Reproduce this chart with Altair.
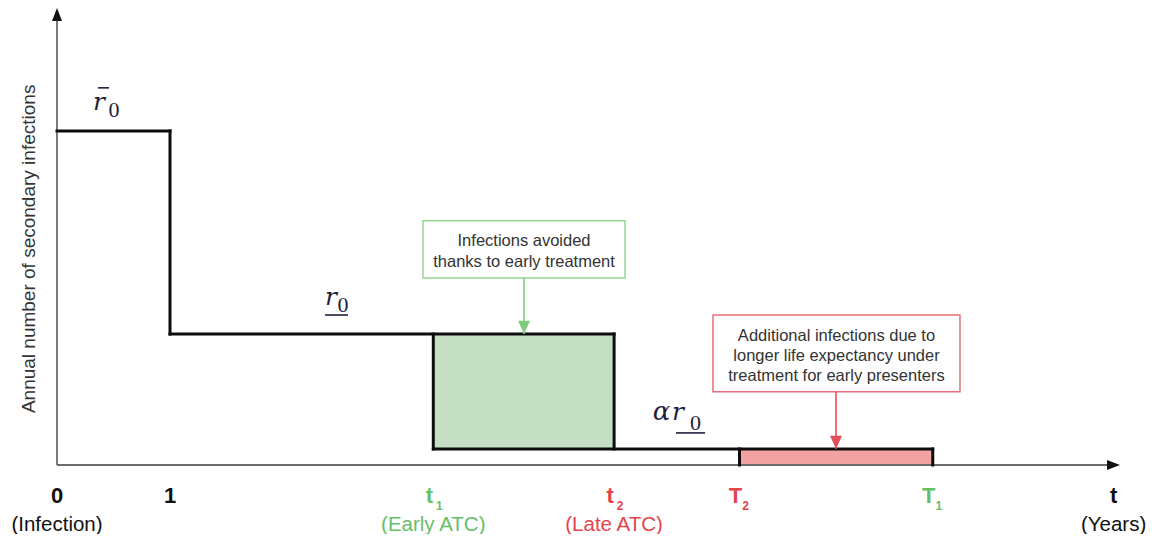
import altair as alt
import pandas as pd

# ---------------- values ----------------
# x: years since infection ; y: annual number of secondary infections (relative)
t1, t2, T2, T1 = 3.33, 4.93, 6.04, 7.75
X_AXIS_END = 9.407
T_LABEL_X = 9.35
R_BAR, R0, AR0 = 1.0, 0.392, 0.048
Y_TOP = 1.368

# black step outline (segments)
seg_x  = [0.0, 1.0, 1.0, t1,  t2,  t1,  T2,  T1]
seg_x2 = [1.0, 1.0, t2,  t1,  t2,  T1,  T2,  T1]
seg_y  = [R_BAR, R_BAR, R0, R0, R0, AR0, AR0, AR0]
seg_y2 = [R_BAR, R0,   R0, AR0, AR0, AR0, 0.0, 0.0]

# shaded areas
area_x  = [t1, T2]
area_x2 = [t2, T1]
area_y  = [AR0, 0.0]
area_y2 = [R0, AR0]
area_col = ["#c4dfc4", "#f3a2a2"]

# annotation boxes
box_x  = [3.239, 5.805]
box_x2 = [5.027, 7.991]
box_y  = [0.560, 0.219]
box_y2 = [0.731, 0.449]
box_stroke = ["#93d693", "#e4717a"]
green_text = "Infections avoided\nthanks to early treatment"
red_text = "Additional infections due to\nlonger life expectancy under\ntreatment for early presenters"
green_text_xy = (4.133, 0.671)   # first line
red_text_xy = (6.898, 0.386)     # first line

# annotation arrows
arr_x = [4.133, 6.894]
arr_y_from = [0.560, 0.219]
arr_y_to = [R0, AR0]
arr_col = ["#7dcd7d", "#e24e57"]

# tick labels under the time axis
main_lab = ["0", "1", "t"]
main_lab_x = [0.0, 1.0, T_LABEL_X]
sub_main = ["t", "t", "T", "T"]
sub_sub = ["1", "2", "2", "1"]
sub_x = [t1, t2, T2, T1]
sub_col = ["#66c066", "#e3444c", "#e3444c", "#66c066"]
row2_lab = ["(Infection)", "(Early ATC)", "(Late ATC)", "(Years)"]
row2_x = [0.0, t1, t2, T_LABEL_X]
row2_col = ["#111111", "#66c066", "#e3444c", "#111111"]

# math labels
math_r_x = [0.372, 2.425, 5.496]
math_r_y = [1.063, 0.479, 0.135]
math_0_x = [0.504, 2.530, 5.650]
math_0_y = [1.042, 0.458, 0.105]
alpha_x, alpha_y = [5.350], [0.135]
bar_x, bar_x2, bar_y = [0.363, 2.372, 5.478], [0.460, 2.575, 5.735], [1.129, 0.449, 0.096]

Y_TITLE = "Annual number of secondary infections"
MATH_COL = "#1f1f3d"

# ---------------- chart ----------------
xs = alt.Scale(domain=[0, X_AXIS_END], nice=False, zero=False)
ys = alt.Scale(domain=[0, Y_TOP], nice=False, zero=False)


def X(f):
    return alt.X(f, type="quantitative", scale=xs, axis=None)


def Y(f):
    return alt.Y(f, type="quantitative", scale=ys, axis=None)


layers = []

# fills
df_area = pd.DataFrame({"x": area_x, "x2": area_x2, "y": area_y, "y2": area_y2, "c": area_col})
layers.append(alt.Chart(df_area).mark_rect().encode(
    x=X("x"), x2="x2", y=Y("y"), y2="y2", color=alt.Color("c:N", scale=None)))

# axes
df_axes = pd.DataFrame({"x": [0.0, 0.0], "x2": [0.0, X_AXIS_END - 0.05],
                        "y": [0.0, 0.0], "y2": [Y_TOP - 0.02, 0.0]})
layers.append(alt.Chart(df_axes).mark_rule(color="#6b6b6b", strokeWidth=1.8).encode(
    x=X("x"), x2="x2", y=Y("y"), y2="y2"))
layers.append(alt.Chart(pd.DataFrame({"x": [0.0], "y": [Y_TOP]})).mark_point(
    shape="M0,0L-1,2.6L1,2.6Z", size=100, filled=True, opacity=1, color="#111111").encode(
    x=X("x"), y=Y("y")))
layers.append(alt.Chart(pd.DataFrame({"x": [X_AXIS_END], "y": [0.0]})).mark_point(
    shape="M0,0L-2.6,-1L-2.6,1Z", size=100, filled=True, opacity=1, color="#111111").encode(
    x=X("x"), y=Y("y")))

# black outline
df_seg = pd.DataFrame({"x": seg_x, "x2": seg_x2, "y": seg_y, "y2": seg_y2})
layers.append(alt.Chart(df_seg).mark_rule(color="#0d0d0d", strokeWidth=3, strokeCap="square").encode(
    x=X("x"), x2="x2", y=Y("y"), y2="y2"))

# annotation boxes
df_box = pd.DataFrame({"x": box_x, "x2": box_x2, "y": box_y, "y2": box_y2, "s": box_stroke})
layers.append(alt.Chart(df_box).mark_rect(fill="white", strokeWidth=1.5).encode(
    x=X("x"), x2="x2", y=Y("y"), y2="y2", stroke=alt.Stroke("s:N", scale=None)))
layers.append(alt.Chart(pd.DataFrame({"x": [green_text_xy[0]], "y": [green_text_xy[1]], "t": [green_text]})).mark_text(
    font="Liberation Sans", fontSize=16.5, lineHeight=21, lineBreak="\n",
    align="center", baseline="middle", color="#333333").encode(
    x=X("x"), y=Y("y"), text="t:N"))
layers.append(alt.Chart(pd.DataFrame({"x": [red_text_xy[0]], "y": [red_text_xy[1]], "t": [red_text]})).mark_text(
    font="Liberation Sans", fontSize=16.5, lineHeight=20, lineBreak="\n",
    align="center", baseline="middle", color="#333333").encode(
    x=X("x"), y=Y("y"), text="t:N"))

# annotation arrows
df_arr = pd.DataFrame({"x": arr_x, "y": arr_y_from, "y2": arr_y_to, "c": arr_col})
layers.append(alt.Chart(df_arr).mark_rule(strokeWidth=1.6).encode(
    x=X("x"), y=Y("y"), y2="y2", color=alt.Color("c:N", scale=None)))
df_head = pd.DataFrame({"x": arr_x, "y": arr_y_to, "c": arr_col})
layers.append(alt.Chart(df_head).mark_point(
    shape="M0,0L-1,-2.2L1,-2.2Z", size=144, filled=True, opacity=1).encode(
    x=X("x"), y=Y("y"), color=alt.Color("c:N", scale=None)))

# math labels
layers.append(alt.Chart(pd.DataFrame({"x": math_r_x, "y": math_r_y, "t": ["r"] * 3})).mark_text(
    font="DejaVu Serif", fontStyle="italic", fontSize=25, align="center",
    baseline="alphabetic", color=MATH_COL).encode(x=X("x"), y=Y("y"), text="t:N"))
layers.append(alt.Chart(pd.DataFrame({"x": alpha_x, "y": alpha_y, "t": ["α"]})).mark_text(
    font="DejaVu Serif", fontStyle="italic", fontSize=26, align="center",
    baseline="alphabetic", color=MATH_COL).encode(x=X("x"), y=Y("y"), text="t:N"))
layers.append(alt.Chart(pd.DataFrame({"x": math_0_x, "y": math_0_y, "t": ["0"] * 3})).mark_text(
    font="Liberation Serif", fontSize=22, align="center",
    baseline="alphabetic", color=MATH_COL).encode(x=X("x"), y=Y("y"), text="t:N"))
df_bar = pd.DataFrame({"x": bar_x, "x2": bar_x2, "y": bar_y})
layers.append(alt.Chart(df_bar).mark_rule(color=MATH_COL, strokeWidth=1.6).encode(
    x=X("x"), x2="x2", y=Y("y")))

# y-axis title
layers.append(alt.Chart(pd.DataFrame({"x": [-0.248], "y": [0.647], "t": [Y_TITLE]})).mark_text(
    font="Liberation Sans", fontSize=19, angle=270, align="center", baseline="middle",
    color="#333333").encode(x=X("x"), y=Y("y"), text="t:N"))

# tick labels
layers.append(alt.Chart(pd.DataFrame({"x": main_lab_x, "y": [0.0] * 3, "t": main_lab})).mark_text(
    font="Liberation Sans", fontWeight="bold", fontSize=22, align="center",
    baseline="alphabetic", dy=38, color="#111111").encode(x=X("x"), y=Y("y"), text="t:N"))
df_sub = pd.DataFrame({"x": sub_x, "y": [0.0] * 4, "m": sub_main, "s": sub_sub, "c": sub_col})
layers.append(alt.Chart(df_sub).mark_text(
    font="Liberation Sans", fontWeight="bold", fontSize=22, align="center",
    baseline="alphabetic", dy=38, dx=-4).encode(
    x=X("x"), y=Y("y"), text="m:N", color=alt.Color("c:N", scale=None)))
layers.append(alt.Chart(df_sub).mark_text(
    font="Liberation Sans", fontWeight="bold", fontSize=12, align="center",
    baseline="alphabetic", dy=45, dx=6).encode(
    x=X("x"), y=Y("y"), text="s:N", color=alt.Color("c:N", scale=None)))
df_r2 = pd.DataFrame({"x": row2_x, "y": [0.0] * 4, "t": row2_lab, "c": row2_col})
layers.append(alt.Chart(df_r2).mark_text(
    font="Liberation Sans", fontSize=20.5, align="center",
    baseline="alphabetic", dy=66).encode(
    x=X("x"), y=Y("y"), text="t:N", color=alt.Color("c:N", scale=None)))

chart = alt.layer(*layers).properties(
    width=1063, height=457,
    autosize=alt.AutoSizeParams(type="none"),
    padding={"left": 49, "top": 0, "right": 36, "bottom": 69},
    background="white",
).configure_view(stroke=None)

chart.save("out.html", embed_options={"renderer": "svg", "actions": False})
